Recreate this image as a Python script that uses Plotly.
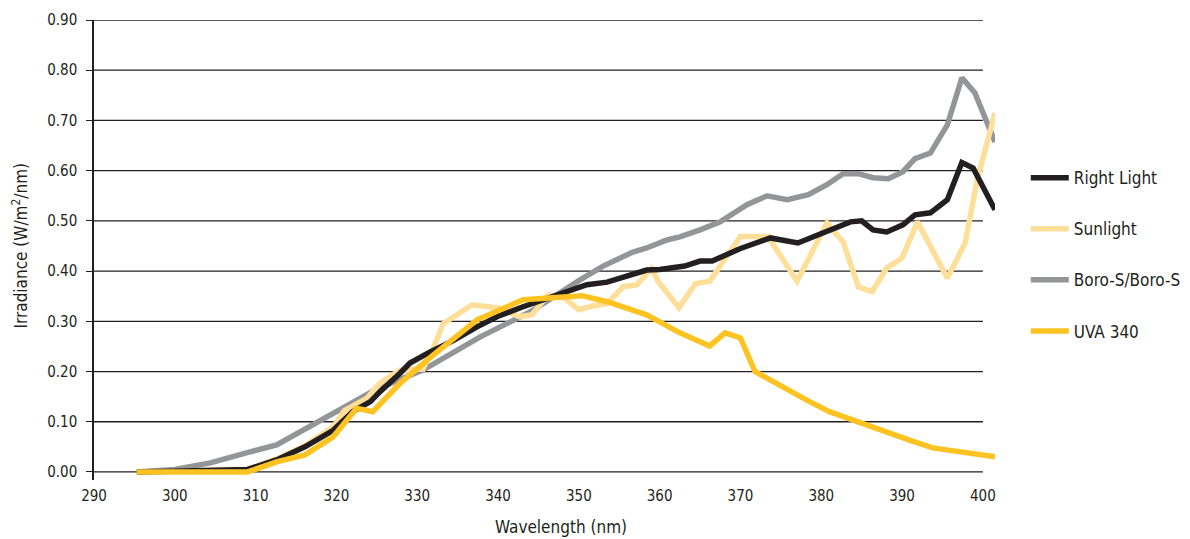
import plotly.graph_objects as go

# ---- data ----
rl_x = [295.3, 300, 305, 309, 312.6, 316.1, 319.6, 322, 324.2, 325.4, 327.9, 329.1, 331.6, 334.5, 337.4, 340,
        343.1, 345.5, 348, 351, 353.5, 356, 358.4, 360, 363.1, 365, 366.5, 370, 373.7, 377.1, 380, 383.6, 385,
        386.4, 388.1, 390.1, 391.6, 393.5, 395.6, 397.4, 398.8, 401.5]
rl_y = [0, 0.002, 0.003, 0.005, 0.024, 0.05, 0.083, 0.12, 0.14, 0.16, 0.197, 0.217, 0.239, 0.262, 0.289, 0.31,
        0.329, 0.342, 0.357, 0.373, 0.378, 0.39, 0.402, 0.403, 0.41, 0.42, 0.42, 0.445, 0.466, 0.456, 0.475, 0.498, 0.5,
        0.482, 0.478, 0.492, 0.512, 0.516, 0.542, 0.616, 0.605, 0.522]

sun_x = [295.3, 309, 312.6, 316.1, 319.6, 321, 323.8, 325.4, 327.9, 330.7, 332, 333.2, 336.8, 340.2, 342.7, 344.2,
         346.2, 348, 350, 351.8, 353.5, 355.5, 357.2, 359, 359.8, 362.4, 364.4, 366.2, 370, 373.4, 377, 380.7,
         382.7, 384.6, 386.3, 388.1, 390, 391.9, 395.6, 397.8, 399.3, 401.5]
sun_y = [0, 0.005, 0.026, 0.052, 0.09, 0.122, 0.147, 0.177, 0.203, 0.205, 0.247, 0.295, 0.333, 0.326, 0.309, 0.313,
         0.353, 0.349, 0.323, 0.331, 0.335, 0.369, 0.373, 0.405, 0.38, 0.327, 0.375, 0.38, 0.469, 0.469, 0.38, 0.496,
         0.458, 0.368, 0.359, 0.406, 0.426, 0.498, 0.386, 0.456, 0.582, 0.715]

boro_x = [295.3, 300, 304.4, 306.8, 309.3, 312.6, 316.4, 319.6, 322, 325, 328, 330.7, 337.8, 344, 350.1, 353,
          356.7, 358.4, 360.9, 362.5, 365, 367.5, 370.8, 373.3, 375.8, 378.4, 380.7, 382.7, 384.6, 386.4, 388.3,
          390.1, 391.6, 393.5, 395.6, 397.4, 399, 401.5]
boro_y = [0, 0.005, 0.018, 0.03, 0.04, 0.054, 0.088, 0.117, 0.14, 0.165, 0.185, 0.203, 0.269, 0.319, 0.382, 0.41,
          0.438, 0.446, 0.462, 0.468, 0.482, 0.498, 0.532, 0.55, 0.542, 0.552, 0.572, 0.594, 0.594, 0.586, 0.584,
          0.598, 0.624, 0.635, 0.691, 0.785, 0.755, 0.657]

uva_x = [295.3, 309, 312.6, 316.1, 319.6, 322.5, 324.5, 327.9, 332, 337.4, 343.1, 346.8, 350.4, 353.5, 358.4,
         362.5, 366.2, 368.1, 370, 371.8, 375, 378.2, 381, 384.4, 388, 391, 393.8, 397, 401.5]
uva_y = [0, 0, 0.02, 0.034, 0.07, 0.127, 0.12, 0.177, 0.233, 0.303, 0.343, 0.347, 0.351, 0.339, 0.313,
         0.277, 0.251, 0.277, 0.267, 0.2, 0.17, 0.143, 0.12, 0.1, 0.08, 0.063, 0.048, 0.04, 0.03]

y_ticks = [0.0, 0.1, 0.2, 0.3, 0.4, 0.5, 0.6, 0.7, 0.8, 0.9]
x_ticks = [290, 300, 310, 320, 330, 340, 350, 360, 370, 380, 390, 400]

FONT = "Liberation Sans Narrow, DejaVu Sans Condensed, Arial Narrow, sans-serif"
TXT = "#231f20"

series = [
    # name, x, y, color, legendrank
    ("Boro-S/Boro-S", boro_x, boro_y, "#939598", 3),
    ("Sunlight", sun_x, sun_y, "#fedf9a", 2),
    ("Right Light", rl_x, rl_y, "#231f20", 1),
    ("UVA 340", uva_x, uva_y, "#fdc323", 4),
]

fig = go.Figure()
for name, xs, ys, col, rank in series:
    fig.add_trace(go.Scatter(x=xs, y=ys, mode="lines", name=name, legendrank=rank,
                             legendgroup=name,
                             line=dict(color=col, width=5.5)))

# horizontal grid lines (stop at 400 nm like the reference)
for v in y_ticks:
    fig.add_shape(type="line", xref="x", yref="y", x0=290, x1=400, y0=v, y1=v,
                  line=dict(color=TXT, width=1.3), layer="below")

fig.update_layout(
    width=1190, height=539,
    paper_bgcolor="white", plot_bgcolor="white",
    margin=dict(l=94, r=195, t=20, b=59, autoexpand=False),
    font=dict(family=FONT, size=15, color=TXT),
    showlegend=True,
    legend=dict(xref="container", yref="container", x=0.862, y=0.703,
                xanchor="left", yanchor="top",
                font=dict(family=FONT, size=17, color=TXT),
                tracegroupgap=26, itemwidth=38, bgcolor="rgba(0,0,0,0)"),
    xaxis=dict(range=[290, 401.5], tickvals=x_ticks, ticktext=[str(t) for t in x_ticks],
               showgrid=False, zeroline=False, showline=False,
               ticks="outside", ticklen=2, tickcolor="rgba(0,0,0,0)",
               tickfont=dict(family=FONT, size=15, color=TXT)),
    yaxis=dict(range=[-0.016, 0.9], tickvals=y_ticks, ticktext=[f"{t:.2f}" for t in y_ticks],
               showgrid=False, zeroline=False, showline=True, linecolor=TXT, linewidth=1.5,
               ticks="outside", ticklen=6, tickcolor=TXT, tickwidth=1.3,
               ticklabelstandoff=6,
               tickfont=dict(family=FONT, size=15, color=TXT)),
    annotations=[
        dict(text="Wavelength (nm)", xref="paper", yref="paper", x=0.518, y=-0.103,
             xanchor="center", yanchor="middle", showarrow=False,
             font=dict(family=FONT, size=17, color=TXT)),
        dict(text="Irradiance (W/m<sup>2</sup>/nm)", xref="paper", yref="paper", x=-0.082, y=0.51,
             xanchor="center", yanchor="middle", textangle=-90, showarrow=False,
             font=dict(family=FONT, size=17, color=TXT)),
    ],
)

fig.write_html("out.html", config={"displayModeBar": False})

# remove the browser's default page margin so the figure sits at the window's corner
with open("out.html", "r", encoding="utf-8") as f:
    html = f.read()
html = html.replace("<head>", "<head><style>html,body{margin:0;padding:0;overflow:hidden;}</style>", 1)
with open("out.html", "w", encoding="utf-8") as f:
    f.write(html)
